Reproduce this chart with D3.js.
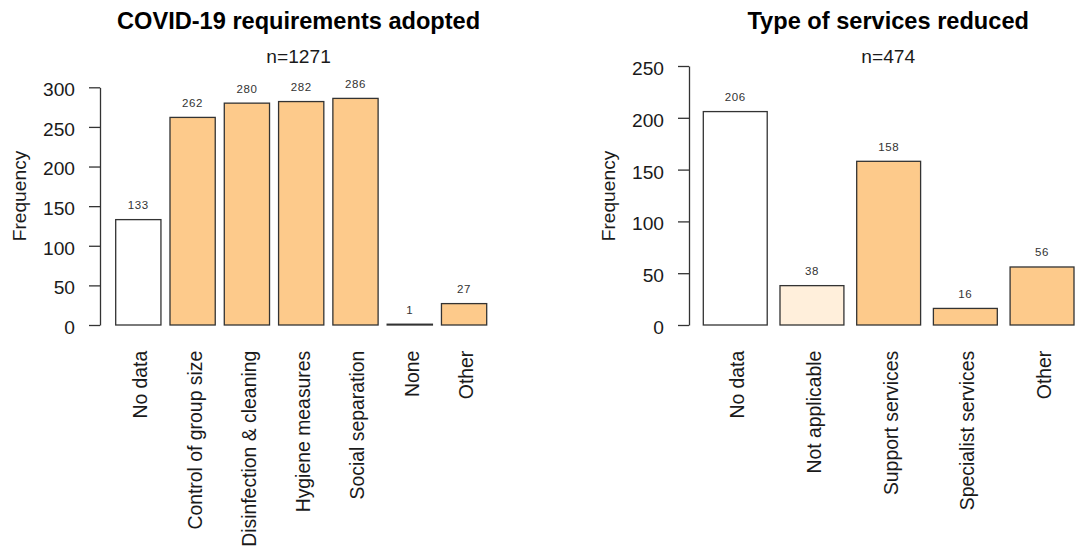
<!DOCTYPE html>
<html>
<head>
<meta charset="utf-8">
<script src="https://cdn.jsdelivr.net/npm/d3@7"></script>
<style>
  html, body { margin: 0; padding: 0; background: #fff; }
  svg { display: block; font-family: "Liberation Sans", Arial, Helvetica, sans-serif; }
</style>
</head>
<body>
<svg id="chart" width="1075" height="556"></svg>
<script>
// ---- data ----
const covidTitle = "COVID-19 requirements adopted";
const covidSubtitle = "n=1271";
const covidCategories = ["No data", "Control of group size", "Disinfection & cleaning", "Hygiene measures", "Social separation", "None", "Other"];
const covidValues = [133, 262, 280, 282, 286, 1, 27];
const covidTicks = [0, 50, 100, 150, 200, 250, 300];

const servicesTitle = "Type of services reduced";
const servicesSubtitle = "n=474";
const servicesCategories = ["No data", "Not applicable", "Support services", "Specialist services", "Other"];
const servicesValues = [206, 38, 158, 16, 56];
const servicesTicks = [0, 50, 100, 150, 200, 250];

const yLabel = "Frequency";

// ---- styles ----
const fillScale = d3.scaleOrdinal()
  .domain(["No data", "Not applicable"])
  .range(["#ffffff", "#ffefdb"])
  .unknown("#fdca8b");
const strokeColor = "#333333";
const textColor = "#1a1a1a";

const svg = d3.select("#chart");
svg.append("rect").attr("width", 1075).attr("height", 556).attr("fill", "#fff");

function drawPanel(cfg) {
  const g = svg.append("g");
  const y = d3.scaleLinear().domain([0, cfg.yMax]).range([cfg.y0, cfg.yTop]);
  const x = d3.scaleBand().domain(cfg.categories)
    .range([cfg.xStart, cfg.xEnd]).paddingInner(1 / 6).paddingOuter(0);

  // y axis
  const axis = d3.axisLeft(y).tickValues(cfg.ticks).tickSizeInner(11).tickSizeOuter(0).tickPadding(14)
    .tickFormat(d3.format("d"));
  const ag = g.append("g").attr("transform", `translate(${cfg.axisX},0)`).call(axis);
  ag.selectAll("path.domain").attr("stroke", strokeColor).attr("stroke-width", 1.3);
  ag.selectAll(".tick line").attr("stroke", strokeColor).attr("stroke-width", 1.3);
  ag.selectAll(".tick text")
    .attr("font-size", 19.2).attr("fill", textColor)
    .attr("font-family", "Liberation Sans, Arial, sans-serif")
    .attr("dy", "0.44em");

  // bars
  const data = cfg.categories.map((c, i) => ({ c, v: cfg.values[i] }));
  g.selectAll("rect.bar").data(data).join("rect")
    .attr("class", "bar")
    .attr("x", d => x(d.c))
    .attr("width", x.bandwidth())
    .attr("y", d => y(d.v))
    .attr("height", d => y(0) - y(d.v))
    .attr("fill", d => fillScale(d.c))
    .attr("stroke", strokeColor)
    .attr("stroke-width", 1.3);

  // value labels
  g.selectAll("text.val").data(data).join("text")
    .attr("class", "val")
    .attr("x", d => x(d.c) + x.bandwidth() / 2)
    .attr("y", d => y(d.v) - 10.5)
    .attr("text-anchor", "middle")
    .attr("font-size", 11.5)
    .attr("letter-spacing", 0.6)
    .attr("fill", "#333")
    .text(d => d.v);

  // category labels (rotated)
  g.selectAll("text.cat").data(data).join("text")
    .attr("class", "cat")
    .attr("transform", d => `translate(${x(d.c) + x.bandwidth() / 2},${cfg.labelTop}) rotate(-90)`)
    .attr("dy", 9)
    .attr("text-anchor", "end")
    .attr("font-size", 19.4)
    .attr("fill", textColor)
    .text(d => d.c);

  // y label
  g.append("text")
    .attr("transform", `translate(${cfg.axisX - 74},${196}) rotate(-90)`)
    .attr("text-anchor", "middle")
    .attr("font-size", 19.2)
    .attr("fill", textColor)
    .text(yLabel);

  // title and subtitle
  g.append("text")
    .attr("x", cfg.titleX).attr("y", 29.3)
    .attr("text-anchor", "middle")
    .attr("font-size", 23.6).attr("font-weight", "bold")
    .attr("fill", "#000")
    .text(cfg.title);
  g.append("text")
    .attr("x", cfg.titleX).attr("y", 63.3)
    .attr("text-anchor", "middle")
    .attr("font-size", 19.2)
    .attr("fill", textColor)
    .text(cfg.subtitle);
}

drawPanel({
  categories: covidCategories, values: covidValues, ticks: covidTicks, yMax: 300,
  y0: 325, yTop: 87.3, xStart: 115.7, xEnd: 486.7, axisX: 100, labelTop: 350.7,
  titleX: 298.6, title: covidTitle, subtitle: covidSubtitle
});

drawPanel({
  categories: servicesCategories, values: servicesValues, ticks: servicesTicks, yMax: 250,
  y0: 325, yTop: 66, xStart: 703.3, xEnd: 1074, axisX: 689, labelTop: 350.7,
  titleX: 888.2, title: servicesTitle, subtitle: servicesSubtitle
});
</script>
</body>
</html>
